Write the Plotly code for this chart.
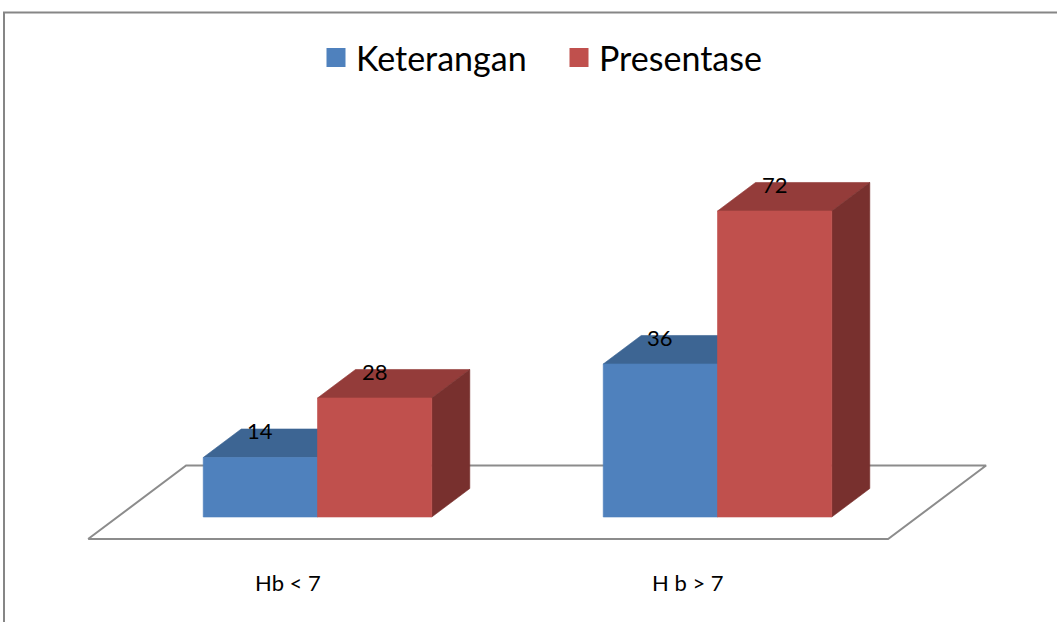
import plotly.graph_objects as go

# ---- data ----
categories = ["Hb < 7", "H b > 7"]
series_names = ["Keterangan", "Presentase"]
keterangan = [14, 36]
presentase = [28, 72]

# ---- style / geometry ----
front_colors = ["#4F81BD", "#C0504D"]
top_colors = ["#3D6593", "#943C3A"]
side_colors = ["#36587F", "#78302E"]
bar_w = 0.2857             # width of one bar in category units
floor_dx, floor_dy = 0.245, 17.29   # oblique projection of full floor depth (x units, value units)
bar_depth = 0.388          # bar depth as a fraction of floor depth
floor_front, floor_back = -0.30, 0.70

W, H = 1057, 622
x_px0, x_scale = 317.5, 400.0
y_px0, y_scale = 517.0, 4.25

fig = go.Figure()

# floor
fx = [-0.5 + floor_front * floor_dx, 1.5 + floor_front * floor_dx,
      1.5 + floor_back * floor_dx, -0.5 + floor_back * floor_dx]
fy = [floor_front * floor_dy, floor_front * floor_dy, floor_back * floor_dy, floor_back * floor_dy]
fig.add_trace(go.Scatter(x=fx + [fx[0]], y=fy + [fy[0]], mode="lines", fill="toself",
                         fillcolor="white", line=dict(color="#8C8C8C", width=2),
                         showlegend=False, hoverinfo="skip"))

dx = bar_depth * floor_dx
dy = bar_depth * floor_dy
all_series = [keterangan, presentase]


def poly(xs, ys, color):
    fig.add_trace(go.Scatter(x=xs + [xs[0]], y=ys + [ys[0]], mode="lines", fill="toself",
                             fillcolor=color, line=dict(color=color, width=0.6),
                             showlegend=False, hoverinfo="skip"))


for i, cat in enumerate(categories):
    for s, vals in enumerate(all_series):
        v = vals[i]
        xl = i - bar_w + s * bar_w
        xr = xl + bar_w
        poly([xl, xr, xr + dx, xl + dx], [v, v, v + dy, v + dy], top_colors[s])
        poly([xr, xr + dx, xr + dx, xr], [0, dy, v + dy, v], side_colors[s])
        poly([xl, xr, xr, xl], [0, 0, v, v], front_colors[s])
        fig.add_annotation(x=(xl + xr) / 2, y=v + dy, text=str(v), showarrow=False,
                           xanchor="center", yanchor="middle", yshift=-2,
                           font=dict(family="Lato", size=22, color="black"))
    fig.add_annotation(x=i + floor_front * floor_dx, y=floor_front * floor_dy, text=cat,
                       showarrow=False, xanchor="center", yanchor="middle", yshift=-43,
                       font=dict(family="Lato", size=22, color="black"))

# legend entries
for s, name in enumerate(series_names):
    fig.add_trace(go.Scatter(x=[None], y=[None], mode="markers", name=name,
                             marker=dict(symbol="square", size=20, color=front_colors[s],
                                         line=dict(color=front_colors[s], width=3))))

# outer chart border
fig.add_shape(type="rect", xref="paper", yref="paper", x0=4 / W, x1=1.2,
              y0=-0.2, y1=1 - 12.5 / H, line=dict(color="#868686", width=2),
              fillcolor="rgba(0,0,0,0)")

fig.update_layout(
    width=W, height=H, margin=dict(l=0, r=0, t=0, b=0),
    paper_bgcolor="white", plot_bgcolor="white",
    xaxis=dict(range=[(0 - x_px0) / x_scale, (W - x_px0) / x_scale], visible=False, fixedrange=True),
    yaxis=dict(range=[(y_px0 - H) / y_scale, y_px0 / y_scale], visible=False, fixedrange=True),
    legend=dict(orientation="h", x=316 / W, y=1 - 58 / H, xanchor="left", yanchor="middle",
                font=dict(family="Lato", size=34, color="black"), itemwidth=30,
                entrywidth=198, entrywidthmode="pixels",
                bgcolor="rgba(0,0,0,0)"),
    showlegend=True,
)

fig.write_html("out.html", config={"displayModeBar": False},
               post_script="document.body.style.margin='0';document.body.style.overflow='hidden';")
